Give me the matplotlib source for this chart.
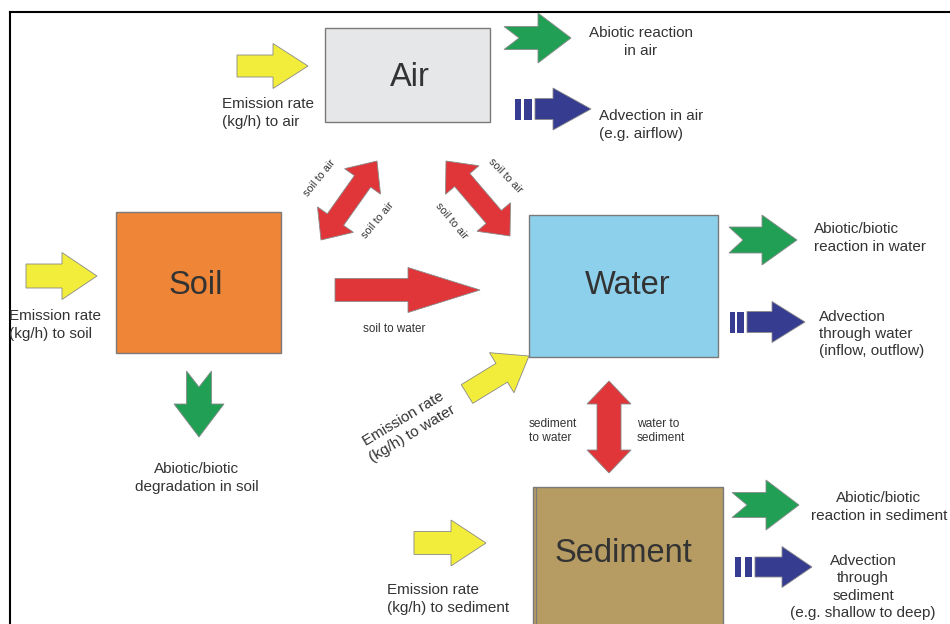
import matplotlib.pyplot as plt
import numpy as np
from matplotlib.patches import Polygon, Rectangle

plt.rcParams['font.family'] = ['Liberation Sans', 'DejaVu Sans']

# compartiments
boxes = ['Air', 'Soil', 'Water', 'Sediment']
box_colors = ['#e6e7e9', '#ee8537', '#8dd0ec', '#b69b62']

# textes des flux
emission_labels = ['Emission rate\n(kg/h) to air', 'Emission rate\n(kg/h) to soil',
                   'Emission rate\n(kg/h) to water', 'Emission rate\n(kg/h) to sediment']
reaction_labels = ['Abiotic reaction\nin air', 'Abiotic/biotic\nreaction in water',
                   'Abiotic/biotic\nreaction in sediment', 'Abiotic/biotic\ndegradation in soil']
advection_labels = ['Advection in air\n(e.g. airflow)',
                    'Advection\nthrough water\n(inflow, outflow)',
                    'Advection\nthrough\nsediment\n(e.g. shallow to deep)']
exchange_labels = ['soil to air', 'soil to water', 'sediment\nto water', 'water to\nsediment']

YELLOW = '#f2ec3a'
GREEN = '#21a055'
BLUE = '#363c8f'
RED = '#e03539'
TXT = '#333333'
EDGE = '#8a8a8a'
FS = 11
LS = 1.3


def arrow(ax, x0, y0, x1, y1, sw, hw, hl, color, notch=0, double=False):
    L = np.hypot(x1 - x0, y1 - y0)
    if double:
        pts = [(0, 0), (hl, -hw/2), (hl, -sw/2), (L-hl, -sw/2), (L-hl, -hw/2), (L, 0),
               (L-hl, hw/2), (L-hl, sw/2), (hl, sw/2), (hl, hw/2)]
    else:
        pts = [(0, -sw/2), (L-hl, -sw/2), (L-hl, -hw/2), (L, 0),
               (L-hl, hw/2), (L-hl, sw/2), (0, sw/2)]
        if notch:
            pts.append((notch, 0))
    ux, uy = (x1 - x0) / L, (y1 - y0) / L
    vx, vy = -uy, ux
    xy = [(x0 + a*ux + b*vx, y0 + a*uy + b*vy) for a, b in pts]
    ax.add_patch(Polygon(xy, closed=True, fc=color, ec=EDGE, lw=0.6, zorder=3))


def striped(ax, x0, yc, x1, sw, hw, hl, bars):
    for bx, bw in bars:
        ax.add_patch(Rectangle((bx, yc - sw/2), bw, sw, fc=BLUE, ec='none', zorder=3))
    arrow(ax, bars[-1][0] + bars[-1][1] + 3, yc, x1, yc, sw, hw, hl, BLUE)


def label(ax, x, y, s, ha='left', **kw):
    ax.text(x, y, s, fontsize=FS, color=TXT, ha=ha, va='center', linespacing=LS, **kw)


fig = plt.figure(figsize=(9.5, 6.24), dpi=100)
ax = fig.add_axes([0, 0, 1, 1])
ax.set_xlim(0, 950)
ax.set_ylim(624, 0)
ax.axis('off')

# cadre
ax.plot([10, 10], [624, 12], color='black', lw=1.5)
ax.plot([10, 950], [12, 12], color='black', lw=1.5)

# boites
box_xy = [(325, 28, 165, 94), (116, 212, 165, 141), (529, 215, 189, 142), (533, 487, 190, 140)]
title_xy = [(410, 77), (196, 285), (628, 285), (623, 553)]
for name, col, (x, y, w, h), (tx, ty) in zip(boxes, box_colors, box_xy, title_xy):
    ax.add_patch(Rectangle((x, y), w, h, fc=col, ec='#7a7a7a', lw=1.0, zorder=2))
    ax.text(tx, ty, name, fontsize=23.5, color=TXT, ha='center', va='center', zorder=4)
ax.plot([536, 536], [487, 624], color='#7a7a7a', lw=0.8, zorder=3)

# emissions (jaune)
arrow(ax, 237, 66, 308, 66, 22, 45, 35, YELLOW)
label(ax, 222, 113, emission_labels[0])
arrow(ax, 26, 276, 97, 276, 24, 47, 35, YELLOW)
label(ax, 9, 325, emission_labels[1])
arrow(ax, 467, 394, 529, 356, 22, 47, 32, YELLOW)
label(ax, 408, 426, emission_labels[2], ha='center', rotation=31, rotation_mode='anchor')
arrow(ax, 414, 543, 486, 543, 23, 46, 35, YELLOW)
label(ax, 387, 599, emission_labels[3])

# reactions (vert)
arrow(ax, 504, 38, 571, 38, 23, 50, 33, GREEN, notch=15)
label(ax, 641, 42, reaction_labels[0], ha='center')
arrow(ax, 729, 240, 797, 240, 26, 50, 35, GREEN, notch=14)
label(ax, 814, 238, reaction_labels[1])
arrow(ax, 732, 505, 799, 505, 25, 50, 33, GREEN, notch=15)
label(ax, 879, 507, reaction_labels[2], ha='center')
arrow(ax, 199, 371, 199, 437, 25, 50, 33, GREEN, notch=16)
label(ax, 197, 478, reaction_labels[3], ha='center')

# advection (bleu)
striped(ax, 515, 109, 591, 21, 42, 38, [(515, 6), (524, 8)])
label(ax, 599, 125, advection_labels[0])
striped(ax, 730, 322, 805, 21, 41, 33, [(730, 5), (737, 7)])
label(ax, 819, 334, advection_labels[1])
striped(ax, 735, 567, 812, 20, 41, 30, [(735, 6), (745, 7)])
label(ax, 863, 587, advection_labels[2], ha='center')

# echanges (rouge)
arrow(ax, 321, 240, 377, 161, 20, 44, 25, RED, double=True)
arrow(ax, 446, 161, 510, 236, 20, 44, 25, RED, double=True)
arrow(ax, 609, 381, 609, 473, 24, 44, 23, RED, double=True)
arrow(ax, 335, 290, 480, 290, 23, 45, 72, RED)

for (x, y, r) in [(320, 178, 51), (378, 220, 50), (505, 176, -46), (451, 221, -50)]:
    ax.text(x, y, exchange_labels[0], fontsize=7.8, color=TXT, ha='center', va='center',
            rotation=r, rotation_mode='anchor')
ax.text(394, 329, exchange_labels[1], fontsize=8.4, color=TXT, ha='center', va='center')
ax.text(529, 431, exchange_labels[2], fontsize=8.6, color=TXT, ha='left', va='center', linespacing=1.3)
ax.text(637, 431, exchange_labels[3], fontsize=8.6, color=TXT, ha='left', va='center', linespacing=1.3)

plt.savefig('out.png', dpi=100)
